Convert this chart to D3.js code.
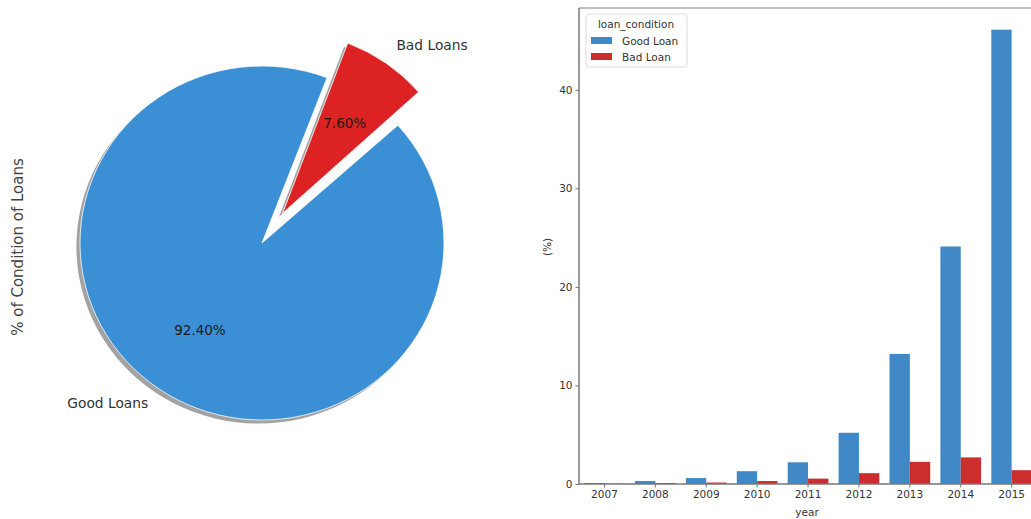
<!DOCTYPE html>
<html lang="en">
<head>
    <meta charset="UTF-8">
    <title>Loan Condition</title>
    <style>
        body { margin: 0; background: #fff; font-family: "DejaVu Sans", sans-serif; }
        svg text { font-family: "DejaVu Sans", sans-serif; }
    </style>
</head>
<body>
    <svg id="chart" width="1031" height="519"></svg>

    <script src="https://d3js.org/d3.v7.min.js"></script>
    <script>
        // pie data
        const pieLabels = ["Good Loans", "Bad Loans"];
        const pieValues = [92.40, 7.60];
        const pieColors = ["#3a8fd5", "#dc2222"];
        const pieExplode = [0, 0.2];

        // bar data
        const years = ["2007", "2008", "2009", "2010", "2011", "2012", "2013", "2014", "2015"];
        const conditions = ["Good Loan", "Bad Loan"];
        const goodLoan = [0.1, 0.3, 0.6, 1.3, 2.2, 5.2, 13.2, 24.1, 46.1];
        const badLoan = [0.02, 0.1, 0.15, 0.3, 0.55, 1.1, 2.25, 2.7, 1.4];
        const barColors = ["#4189c6", "#cc2d2d"];
        const yTicks = [0, 10, 20, 30, 40];

        const svg = d3.select('#chart');

        // ---------- pie ----------
        // the source picture is slightly squashed for the big wedge only
        const cx = 262, cy = 243, r = 182;
        const ryScale = [177 / 182, 1];
        const toRad = Math.PI / 180;
        const start = 48.3 * toRad;

        const pie = d3.pie().sort(null)
            .startAngle(start)
            .endAngle(start + 2 * Math.PI);
        const arcs = pie(pieValues);
        const arc = d3.arc().innerRadius(0).outerRadius(r);

        function pos(a, k, s) {
            return [cx + r * k * Math.sin(a), cy - r * s * k * Math.cos(a)];
        }
        function mid(d) { return (d.startAngle + d.endAngle) / 2; }

        // shadow
        const shadow = svg.append('g');
        arcs.forEach((d, i) => {
            const c = pos(mid(d), pieExplode[i], 1);
            shadow.append('path')
                .attr('d', arc(d))
                .attr('fill', 'rgba(70,70,70,0.5)')
                .attr('transform', `translate(${c[0] - 3.6},${c[1] + 3.6}) scale(1,${ryScale[i]})`);
        });

        const wedges = svg.append('g');
        arcs.forEach((d, i) => {
            const c = pos(mid(d), pieExplode[i], 1);
            wedges.append('path')
                .attr('d', arc(d))
                .attr('fill', pieColors[i])
                .attr('stroke', '#ffffff')
                .attr('stroke-width', 0.8)
                .attr('transform', `translate(${c[0]},${c[1]}) scale(1,${ryScale[i]})`);
        });

        // labels
        arcs.forEach((d, i) => {
            const a = mid(d);
            const e = pieExplode[i];
            const lp = pos(a, 1.1 + e, ryScale[i]);
            svg.append('text')
                .attr('x', lp[0])
                .attr('y', lp[1] - (i === 1 ? 3 : 0))
                .attr('dy', '0.35em')
                .attr('text-anchor', Math.sin(a) < 0 ? 'end' : 'start')
                .attr('font-size', 13.8)
                .attr('fill', '#333')
                .text(pieLabels[i]);
            const pp = pos(a, 0.6 + e, ryScale[i]);
            svg.append('text')
                .attr('x', pp[0])
                .attr('y', pp[1])
                .attr('dy', '0.35em')
                .attr('text-anchor', 'middle')
                .attr('font-size', 13.5)
                .attr('fill', '#1a1a1a')
                .text(pieValues[i].toFixed(2) + '%');
        });

        svg.append('text')
            .attr('transform', 'translate(23,247) rotate(-90)')
            .attr('text-anchor', 'middle')
            .attr('font-size', 15)
            .attr('fill', '#444')
            .text('% of Condition of Loans');

        // ---------- bars ----------
        const plotLeft = 579, plotTop = 8, plotBottom = 484;
        const x = d3.scaleBand()
            .domain(years)
            .range([plotLeft, plotLeft + 9 * 50.9])
            .paddingInner(0.2)
            .paddingOuter(0.1);
        const xSub = d3.scaleBand()
            .domain(conditions)
            .range([0, x.bandwidth()]);
        const y = d3.scaleLinear()
            .domain([0, 48.3])
            .range([plotBottom, plotTop]);

        const series = [goodLoan, badLoan];
        conditions.forEach((c, ci) => {
            svg.append('g').selectAll('rect')
                .data(years)
                .enter()
                .append('rect')
                .attr('x', yr => x(yr) + xSub(c))
                .attr('width', xSub.bandwidth())
                .attr('y', (yr, i) => y(series[ci][i]))
                .attr('height', (yr, i) => plotBottom - y(series[ci][i]))
                .attr('fill', barColors[ci]);
        });

        // spines
        svg.append('line')
            .attr('x1', plotLeft).attr('x2', 1031)
            .attr('y1', plotTop).attr('y2', plotTop)
            .attr('stroke', '#aaa').attr('stroke-width', 1.5);

        const yAxis = svg.append('g')
            .attr('transform', `translate(${plotLeft},0)`)
            .call(d3.axisLeft(y).tickValues(yTicks).tickSize(3.5).tickPadding(3));
        const xAxis = svg.append('g')
            .attr('transform', `translate(0,${plotBottom})`)
            .call(d3.axisBottom(x).tickSize(3.5).tickPadding(3));
        [xAxis, yAxis].forEach(g => {
            g.select('.domain').attr('stroke', '#777').attr('stroke-width', 1.5);
            g.selectAll('.tick line').attr('stroke', '#777');
            g.selectAll('.tick text').attr('fill', '#333').attr('font-size', 10.5)
                .attr('font-family', '"DejaVu Sans", sans-serif');
        });
        yAxis.select('.domain').attr('d', `M0,${plotBottom}V${plotTop}`);
        xAxis.select('.domain').attr('d', `M${plotLeft},0H1031`);

        svg.append('text')
            .attr('x', 807).attr('y', 516)
            .attr('text-anchor', 'middle')
            .attr('font-size', 10.5)
            .attr('fill', '#333')
            .text('year');
        svg.append('text')
            .attr('transform', 'translate(551,247) rotate(-90)')
            .attr('text-anchor', 'middle')
            .attr('font-size', 10.5)
            .attr('fill', '#333')
            .text('(%)');

        // legend
        const lg = svg.append('g');
        lg.append('rect')
            .attr('x', 586).attr('y', 14)
            .attr('width', 101).attr('height', 53)
            .attr('rx', 3)
            .attr('fill', '#fff')
            .attr('stroke', '#ddd');
        lg.append('text')
            .attr('x', 636).attr('y', 28)
            .attr('text-anchor', 'middle')
            .attr('font-size', 10.5)
            .attr('fill', '#333')
            .text('loan_condition');
        conditions.forEach((c, i) => {
            lg.append('rect')
                .attr('x', 591).attr('y', 37 + i * 16)
                .attr('width', 21).attr('height', 7)
                .attr('fill', barColors[i]);
            lg.append('text')
                .attr('x', 622).attr('y', 41 + i * 16)
                .attr('dy', '0.35em')
                .attr('font-size', 10.5)
                .attr('fill', '#333')
                .text(c);
        });
    </script>
</body>
</html>
